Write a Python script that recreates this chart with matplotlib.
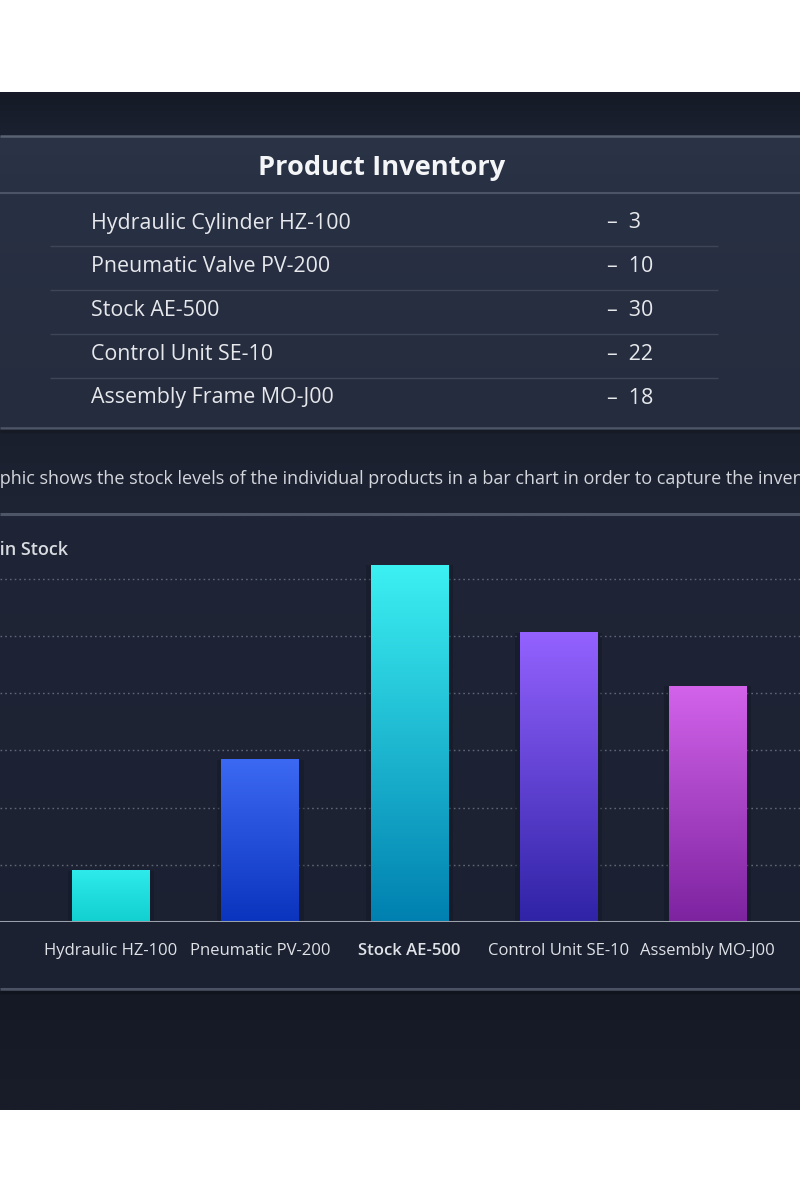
import numpy as np
import matplotlib
matplotlib.use("Agg")
import matplotlib.pyplot as plt
from matplotlib.colors import LinearSegmentedColormap

plt.rcParams['font.family'] = ['Open Sans', 'DejaVu Sans']

# table data
title = "Product Inventory"
products = ["Hydraulic Cylinder HZ-100", "Pneumatic Valve PV-200", "Stock AE-500",
            "Control Unit SE-10", "Assembly Frame MO-J00"]
stock = [3, 10, 30, 22, 18]

# bar chart data (heights as drawn in the picture)
bar_labels = ["Hydraulic HZ-100", "Pneumatic PV-200", "Stock AE-500",
              "Control Unit SE-10", "Assembly MO-J00"]
bar_values = [4.5, 14.2, 31.2, 25.3, 20.6]
grid_ticks = [5, 10, 15, 20, 25, 30]
bar_top = ['#2eeaea', '#3c69f3', '#3cf0f2', '#9462ff', '#d263ea']
bar_bottom = ['#12cfd0', '#0b34bd', '#0080b0', '#2f23a6', '#7d23a0']

caption = ("The graphic shows the stock levels of the individual products in a bar "
           "chart in order to capture the inventory at a glance.")
y_label = "Units in Stock"

W, H = 800, 1200
fig = plt.figure(figsize=(8, 12), dpi=100)
fig.patch.set_facecolor('white')

# background axes in pixel coordinates
bg = fig.add_axes([0, 0, 1, 1])
bg.set_xlim(0, W)
bg.set_ylim(H, 0)
bg.axis('off')


def vfill(y0, y1, c_top, c_bot, x0=0, x1=W, z=0):
    cm = LinearSegmentedColormap.from_list('bgc', [c_top, c_bot])
    g = np.linspace(0, 1, 64).reshape(-1, 1)
    bg.imshow(g, extent=[x0, x1, y1, y0], cmap=cm, aspect='auto', zorder=z,
              interpolation='bilinear')


def hline(y, c, lw=1.5, x0=0, x1=W, z=2):
    bg.plot([x0, x1], [y, y], color=c, lw=lw, zorder=z, solid_capstyle='butt')


# dark page
vfill(92, 136, '#151a26', '#1b2130')
# table panel
vfill(136, 193, '#2b3346', '#283043')
vfill(193, 428, '#283043', '#252c3e')
# below table / caption
vfill(428, 514, '#1a1f2d', '#1e2434')
# chart panel
vfill(514, 989, '#1f2536', '#1b2131')
# bottom
vfill(989, 1110, '#141925', '#181d29')
bg.set_xlim(0, W)
bg.set_ylim(H, 0)

hline(136, '#596272', 1.8)
hline(193, '#4c5567', 1.5)
hline(428, '#4d5668', 1.8)
hline(431, '#151a25', 2.5)
hline(514, '#4d5567', 2.2)
hline(989, '#4a5264', 2.2)
hline(992, '#10141d', 2.5)

# table
bg.text(382, 168, title, ha='center', va='center', fontsize=19.6, fontweight='bold',
        color='#f4f5f7', zorder=5)
row_y = [223, 267, 311, 355, 398]
for i, (name, val) in enumerate(zip(products, stock)):
    bg.text(91, row_y[i], name, ha='left', va='center', fontsize=15.4,
            color='#e6e8ec', zorder=5)
    bg.text(607, row_y[i], "\u2013  " + str(val), ha='left', va='center',
            fontsize=15.4, color='#e6e8ec', zorder=5)
    if i < len(products) - 1:
        hline((row_y[i] + row_y[i + 1]) / 2 + 1, '#3d4658', 1.0, 50, 718)

# caption, clipped by the page edges like in the picture
cap_size = 13.0
renderer = fig.canvas.get_renderer()
probe = bg.text(0, 0, "The gra", fontsize=cap_size)
pw = probe.get_window_extent(renderer).width
probe.remove()
bg.text(-pw, 479, caption, ha='left', va='center', fontsize=cap_size,
        color='#d3d6dc', zorder=5)

bg.text(68, 550, y_label, ha='right', va='center', fontsize=13,
        fontweight='semibold', color='#d8dbe0', zorder=5)

# bar chart axes
base_px, top_px = 922, 540
ax = fig.add_axes([0, (H - base_px) / H, 1, (base_px - top_px) / H])
ax.set_facecolor('none')
x = np.arange(len(bar_values))
bars = ax.bar(x, bar_values, width=0.52, color='none', zorder=3)
grad = np.linspace(0, 1, 256).reshape(-1, 1)
for b, ct, cb in zip(bars, bar_top, bar_bottom):
    cm = LinearSegmentedColormap.from_list('bar', [cb, ct])
    x0 = b.get_x()
    # soft shadow
    ax.bar(b.get_x() + b.get_width() / 2, b.get_height(), width=b.get_width() * 1.12,
           color='#0f1420', alpha=0.35, zorder=2)
    ax.imshow(grad, extent=[x0, x0 + b.get_width(), 0, b.get_height()],
              origin='lower', cmap=cm, aspect='auto', zorder=3)

for t in grid_ticks:
    ax.axhline(t, color='#5f6676', lw=1.0, ls=(0, (1.2, 2.2)), zorder=1)
ax.axhline(0, color='#9ba1ab', lw=2.2, zorder=4)

ax.set_xlim(-0.744, 4.618)
ax.set_ylim(0, 33.4)
for s in ax.spines.values():
    s.set_visible(False)
ax.set_yticks([])
ax.set_xticks(x, bar_labels)
ax.tick_params(axis='x', length=0, pad=15, colors='#dfe2e7', labelsize=12)
for lab in ax.get_xticklabels():
    if lab.get_text() == "Stock AE-500":
        lab.set_fontweight('semibold')

fig.savefig('out.png', dpi=100)
